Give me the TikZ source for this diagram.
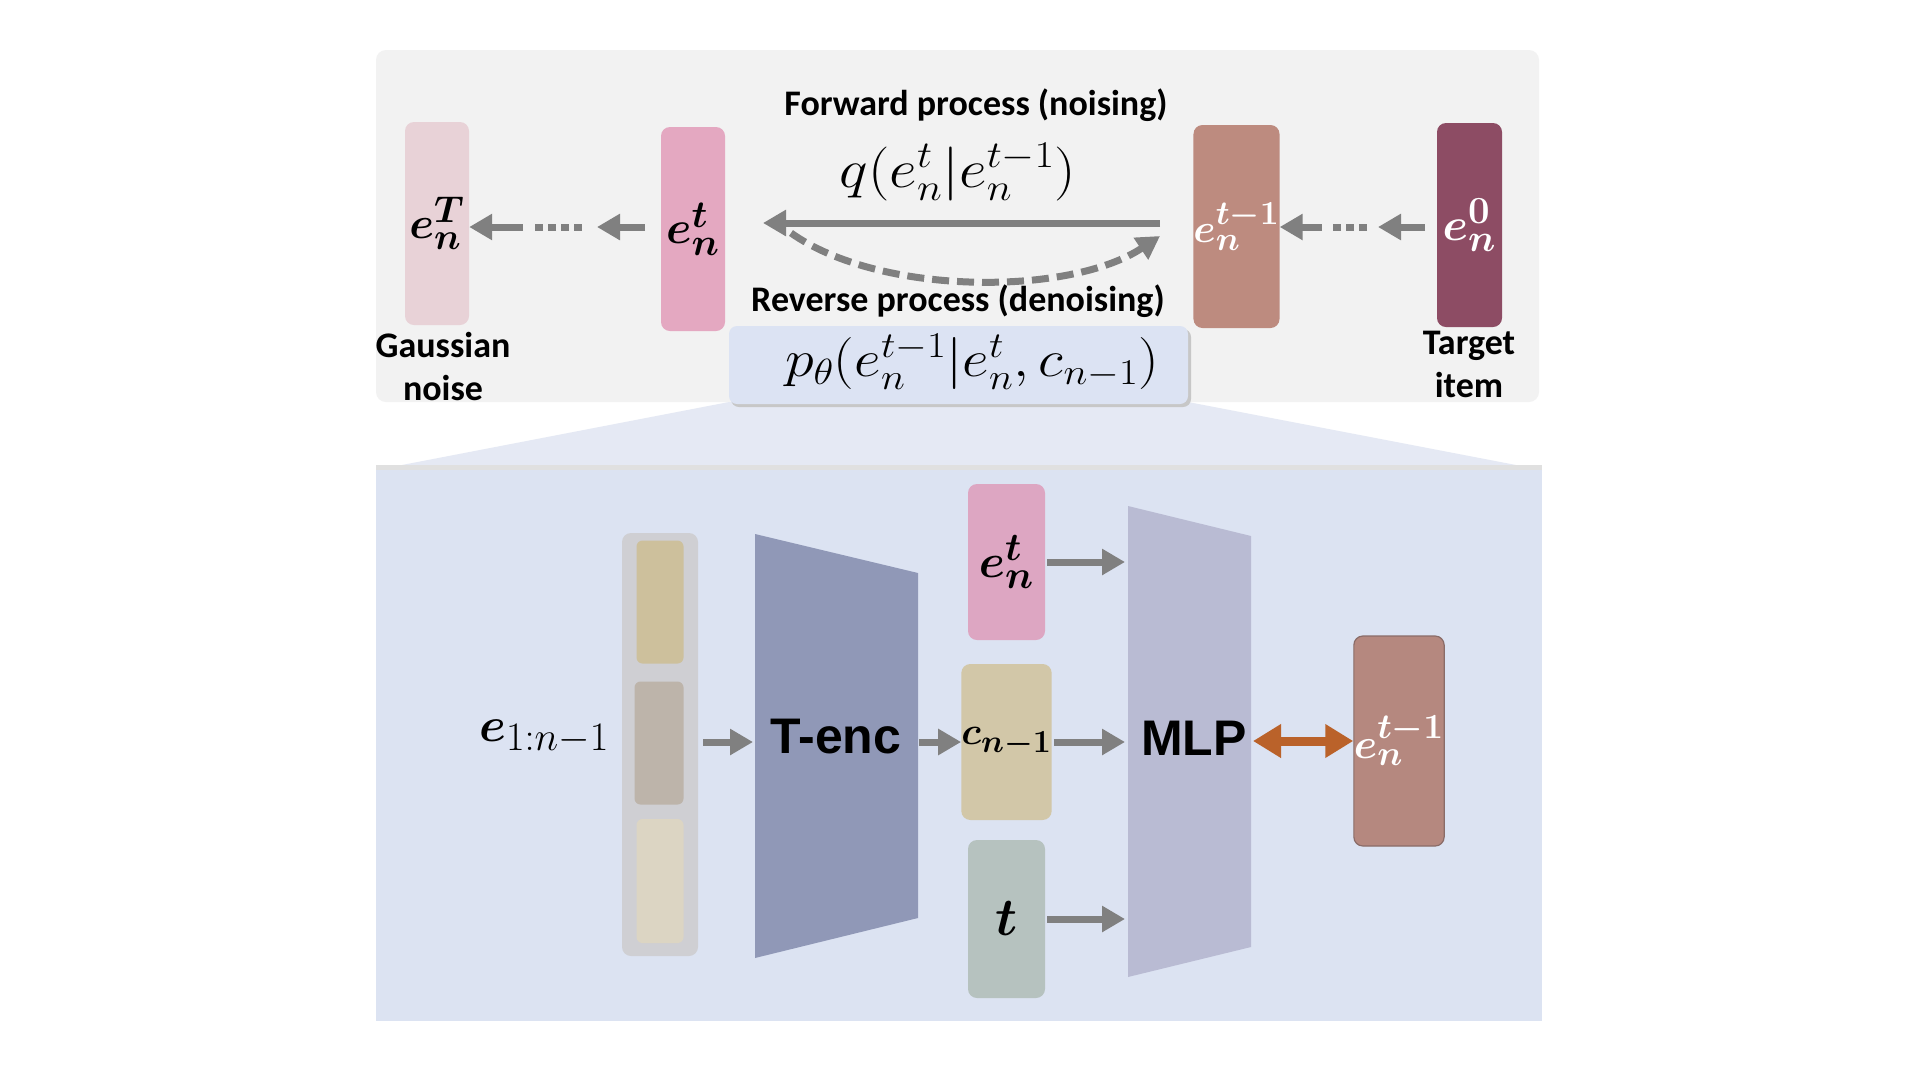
\RequirePackage{fix-cm}
\documentclass[tikz,border=0pt]{standalone}
\usepackage{amsmath}
\usepackage{bm}
\usepackage{graphicx}
\usepackage{fontspec}
\newfontfamily\labfont{Carlito}
\newfontfamily\blkfont{Liberation Sans}
\usetikzlibrary{arrows.meta}

\definecolor{panelgray}{HTML}{F2F2F2}
\definecolor{panelblue}{HTML}{DCE3F2}
\definecolor{fanblue}{HTML}{E5E9F4}
\definecolor{pboxblue}{HTML}{DCE3F3}
\definecolor{cT}{HTML}{E8D2D7}
\definecolor{ct}{HTML}{E4A8C1}
\definecolor{ctm}{HTML}{BD8B7F}
\definecolor{czero}{HTML}{8D4C64}
\definecolor{arrgray}{HTML}{808080}
\definecolor{seqgray}{HTML}{CFCFD3}
\definecolor{itemA}{HTML}{CDC09C}
\definecolor{itemB}{HTML}{BDB4AA}
\definecolor{itemC}{HTML}{DCD5C3}
\definecolor{tencc}{HTML}{9098B7}
\definecolor{mlpc}{HTML}{B9BBD3}
\definecolor{btpink}{HTML}{DDA6C2}
\definecolor{bcbox}{HTML}{D2C7A8}
\definecolor{btbox}{HTML}{B6C2BF}
\definecolor{bbrown}{HTML}{B5887F}
\definecolor{bbrownedge}{HTML}{8A6C68}
\definecolor{orangearr}{HTML}{BA622A}

% bold math, set at 24.88pt and scaled
\newcommand\sbm[2]{\scalebox{#1}{\fontsize{24.88}{30}\selectfont$\bm{#2}$}}
\newcommand\formA{\fontsize{54}{60}\selectfont}
\newcommand\formB{\fontsize{52}{58}\selectfont}

\tikzset{
  vbox/.style={rounded corners=9pt, inner sep=0pt},
  lab/.style={font=\labfont\bfseries\fontsize{36}{43}\selectfont, align=center, inner sep=0pt},
  garr/.style={draw=arrgray, line width=7pt, -{Triangle[length=23pt,width=25pt]}},
  gdot/.style={draw=arrgray, line width=7pt, dash pattern=on 8pt off 5pt},
  oarr/.style={draw=orangearr, line width=9pt, {Triangle[length=28pt,width=32pt]}-{Triangle[length=28pt,width=32pt]}},
  blk/.style={font=\blkfont\bfseries\fontsize{50}{56}\selectfont, inner sep=0pt}
}

\begin{document}
\begin{tikzpicture}[x=1pt,y=-1pt]
\useasboundingbox (0,0) rectangle (1920,1080);
\fill[white] (0,0) rectangle (1920,1080);

% ---------- top panel ----------
\fill[panelgray, rounded corners=10pt] (376,50) rectangle (1539,402);

\node[vbox, fill=cT, minimum width=64, minimum height=203] (eT) at (437,223.5) {\sbm{1.8}{e_n^T}};
\node[vbox, fill=ct, minimum width=64, minimum height=204] (et) at (693,229) {\sbm{1.85}{e_n^t}};
\node[vbox, fill=ctm, minimum width=77, minimum height=203, text=white] (etm) at (1236.5,226.5) {\sbm{1.62}{e_n^{t-1}}};
\node[vbox, fill=czero, minimum width=65, minimum height=204, text=white] (ezero) at (1469.5,225) {\sbm{1.85}{e_n^0}};

\node[lab] (gauss) at (443,366) {Gaussian\\noise};
\node[lab] (target) at (1469,364) {Target\\item};

% left chain
\coordinate (l1) at (645,227);
\coordinate (l2) at (597,227);
\coordinate (l3) at (582,227);
\coordinate (l4) at (533,227);
\coordinate (l5) at (523,227);
\draw[garr] (l1) -- (l2);
\draw[gdot] (l3) -- (l4);
\draw[garr] (l5) -- (eT.east |- l5);
% right chain
\coordinate (r1) at (1425,227);
\coordinate (r2) at (1378,227);
\coordinate (r3) at (1367,227);
\coordinate (r4) at (1332,227);
\coordinate (r5) at (1322,227);
\draw[garr] (r1) -- (r2);
\draw[gdot] (r3) -- (r4);
\draw[garr] (r5) -- (etm.east |- r5);

% forward / reverse
\node[lab] (fwd) at (976,105) {Forward process (noising)};
\node[inner sep=0pt, font=\formA] (qf) at (958,172) {\scalebox{1.12}[1]{$q(e_n^t|e_n^{t-1})$}};
\coordinate (fs) at (1160,223);
\coordinate (fe) at (763,223);
\draw[garr] (fs) -- (fe);
\coordinate (rs) at (791,233);
\coordinate (re) at (1160,236);
\draw[draw=arrgray, line width=7pt, dash pattern=on 17pt off 8pt, -{Triangle[length=23pt,width=25pt]}]
  (rs) .. controls (880,296) and (1070,296) .. (re);
\node[lab] (rev) at (958,301) {Reverse process (denoising)};

% fan
\fill[fanblue] (729,402) -- (1188,402) -- (1542,470) -- (376,470) -- cycle;

% p box
\fill[black!22, rounded corners=8pt] (731,329) rectangle (1191,407);
\node[fill=pboxblue, rounded corners=8pt, minimum width=459, minimum height=78, inner sep=0pt] (pbox) at (958.5,365) {};
\node[inner sep=0pt, font=\formB] (pf) at (972,362) {\scalebox{1.12}[1]{$p_\theta(e_n^{t-1}|e_n^t,c_{n-1})$}};

% ---------- bottom panel ----------
\fill[black!12] (376,465) rectangle (1542,471);
\fill[panelblue] (376,470) rectangle (1542,1021);

\node[inner sep=0pt, anchor=west] (eseq) at (479,737) {\scalebox{1.95}{\fontsize{24.88}{30}\selectfont$\bm{e}_{1{:}n-1}$}};

\node[fill=seqgray, rounded corners=9pt, minimum width=76, minimum height=423, inner sep=0pt] (seq) at (660,744.5) {};
\node[fill=itemA, rounded corners=6pt, minimum width=47, minimum height=123, inner sep=0pt] (itA) at (660,602) {};
\node[fill=itemB, rounded corners=6pt, minimum width=49, minimum height=123, inner sep=0pt] (itB) at (659,743) {};
\node[fill=itemC, rounded corners=6pt, minimum width=47, minimum height=124, inner sep=0pt] (itC) at (660,881) {};

% T-enc trapezoid
\fill[tencc] (755,534) -- (918,573) -- (918,918) -- (755,958) -- cycle;
\node[blk] (tenc) at (836,737) {T-enc};
\coordinate (tencL) at (753,742);
\coordinate (tencR) at (919,742);

% MLP trapezoid
\fill[mlpc] (1128,506) -- (1251,536) -- (1251,947) -- (1128,977) -- cycle;
\node[blk] (mlp) at (1194,738) {MLP};
\coordinate (mlpL) at (1125,0);
\coordinate (mlpR) at (1253,741);

% boxes
\node[vbox, fill=btpink, minimum width=77, minimum height=156] (bet) at (1006.5,562) {\sbm{1.9}{e_n^t}};
\node[vbox, fill=bcbox, minimum width=77, minimum height=156] (bc) at (1006.5,742) {\sbm{1.55}{c_{n-1}}};
\node[vbox, fill=btbox, minimum width=77, minimum height=158] (bt) at (1006.5,919) {\sbm{2.15}{t}};
\node[vbox, fill=bbrown, draw=bbrownedge, line width=1.2pt, minimum width=89, minimum height=210, text=white] (betm) at (1399,741) {\sbm{1.7}{e_n^{t-1}}};

% arrows bottom
\draw[garr, shorten <=5pt] (seq.east |- tencL) -- (tencL);
\draw[garr] (tencR) -- (bc.west);
\draw[garr, shorten <=2pt] (bet.east) -- (bet.east -| mlpL);
\draw[garr, shorten <=2pt] (bc.east) -- (bc.east -| mlpL);
\draw[garr, shorten <=2pt] (bt.east) -- (bt.east -| mlpL);
\draw[oarr] (mlpR) -- (betm.west);

\end{tikzpicture}
\end{document}
